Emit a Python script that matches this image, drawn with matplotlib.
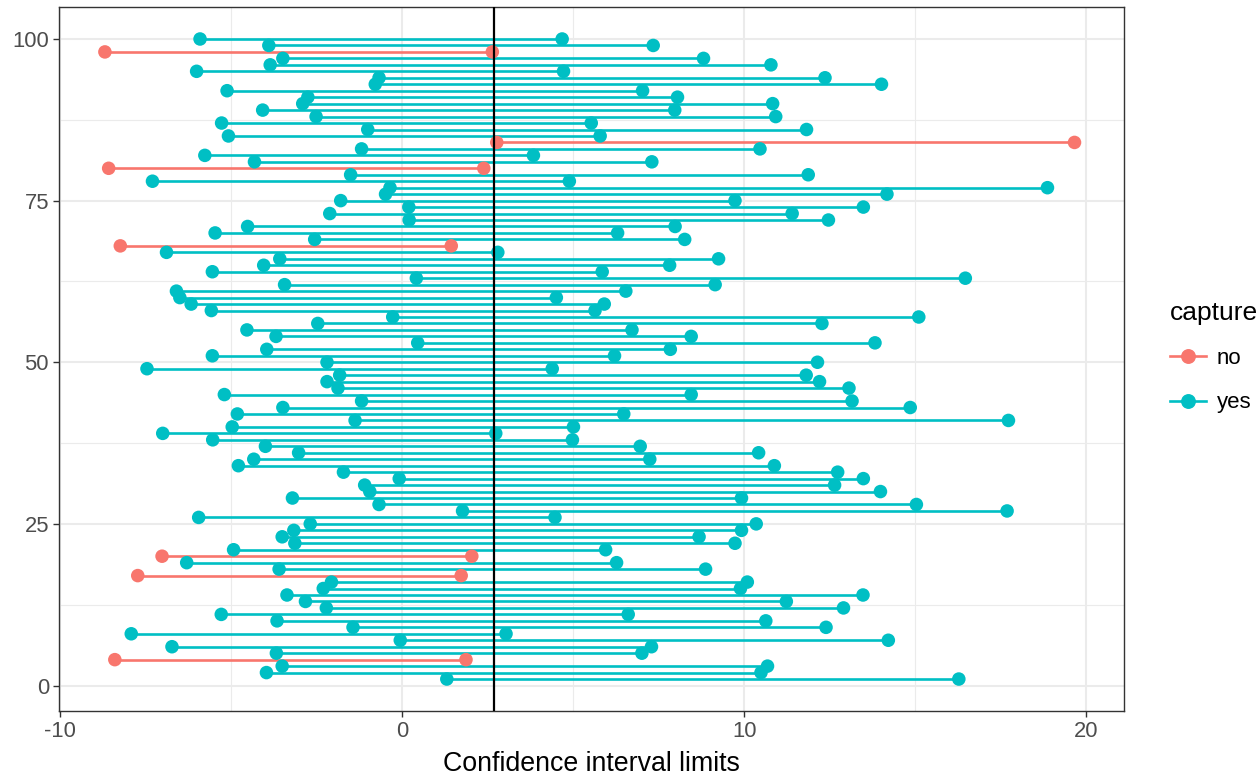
import numpy as np
import matplotlib
matplotlib.use("Agg")
import matplotlib.pyplot as plt
from matplotlib.lines import Line2D

# true mean (vertical reference line)
mu = 2.7

# sample index 1..100, lower and upper confidence limits
sample = list(range(1, 101))
lower = [1.31, -3.96, -3.50, -8.39, -3.67, -6.72, -0.05, -7.91, -1.43, -3.65,
         -5.28, -2.21, -2.82, -3.36, -2.30, -2.06, -7.72, -3.59, -6.29, -7.01,
         -4.92, -3.13, -3.50, -3.16, -2.68, -5.94, 1.77, -0.67, -3.20, -0.94,
         -1.09, -0.08, -1.71, -4.78, -4.33, -3.02, -3.99, -5.53, -6.99, -4.96,
         -1.37, -4.81, -3.48, -1.18, -5.19, -1.87, -2.19, -1.82, -7.45, -2.19,
         -5.54, -3.95, 0.46, -3.68, -4.53, -2.46, -0.27, -5.57, -6.16, -6.49,
         -6.59, -3.43, 0.42, -5.54, -4.04, -3.57, -6.88, -8.23, -2.55, -5.46,
         -4.51, 0.21, -2.11, 0.20, -1.79, -0.48, -0.35, -7.29, -1.50, -8.57,
         -4.31, -5.76, -1.18, 2.77, -5.07, -1.00, -5.27, -2.51, -4.07, -2.90,
         -2.75, -5.11, -0.78, -0.67, -6.00, -3.85, -3.48, -8.68, -3.89, -5.90]
upper = [16.27, 10.49, 10.68, 1.87, 7.01, 7.29, 14.21, 3.04, 12.39, 10.63,
         6.61, 12.90, 11.23, 13.47, 9.89, 10.09, 1.73, 8.87, 6.27, 2.04,
         5.95, 9.73, 8.68, 9.92, 10.35, 4.47, 17.68, 15.03, 9.92, 13.98,
         12.64, 13.48, 12.73, 10.88, 7.24, 10.42, 6.96, 4.98, 2.74, 5.01,
         17.72, 6.48, 14.85, 13.15, 8.45, 13.06, 12.20, 11.81, 4.39, 12.14,
         6.21, 7.84, 13.82, 8.45, 6.72, 12.27, 15.10, 5.64, 5.91, 4.51,
         6.54, 9.15, 16.46, 5.85, 7.82, 9.25, 2.80, 1.44, 8.26, 6.30,
         7.98, 12.46, 11.40, 13.48, 9.73, 14.17, 18.86, 4.89, 11.87, 2.39,
         7.30, 3.84, 10.46, 19.65, 5.79, 11.82, 5.53, 10.92, 7.97, 10.83,
         8.05, 7.03, 14.01, 12.36, 4.72, 10.78, 8.81, 2.64, 7.34, 4.68]

xTicks = [-10, 0, 10, 20]
yTicks = [0, 25, 50, 75, 100]

colNo = "#F8766D"
colYes = "#00BFC4"
textGrey = "#4D4D4D"

plt.rcParams['font.family'] = ['Liberation Sans', 'DejaVu Sans']

fig = plt.figure(figsize=(12.57, 7.76), dpi=100)
ax = fig.add_axes([0.0467, 0.0837, 0.8476, 0.9073])

lo = np.array(lower)
hi = np.array(upper)
y = np.array(sample)
captured = (lo <= mu) & (hi >= mu)
colors = np.where(captured, colYes, colNo)

ax.hlines(y, lo, hi, colors=colors, linewidth=1.9, zorder=3)
ax.scatter(lo, y, s=95, c=colors, zorder=4, linewidths=0)
ax.scatter(hi, y, s=95, c=colors, zorder=4, linewidths=0)
ax.axvline(mu, color="black", linewidth=1.6, zorder=5)

ax.set_xlim(-10.03, 21.1)
ax.set_ylim(-3.95, 104.95)
ax.set_xticks(xTicks)
ax.set_xticklabels([str(t) for t in xTicks])
ax.set_yticks(yTicks)
ax.set_xticks([-5, 5, 15], minor=True)
ax.set_yticks([12.5, 37.5, 62.5, 87.5], minor=True)

ax.set_facecolor("white")
ax.grid(which="major", color="#EBEBEB", linewidth=1.5, zorder=0)
ax.grid(which="minor", color="#EBEBEB", linewidth=0.8, zorder=0)
ax.set_axisbelow(True)
for s in ax.spines.values():
    s.set_color("#333333")
    s.set_linewidth(1.0)

ax.tick_params(which="major", length=4, width=1, color="#333333",
               labelsize=15.8, labelcolor=textGrey, pad=3)
ax.tick_params(which="minor", length=0)

ax.set_xlabel("Confidence interval limits", fontsize=19.3, color="black", labelpad=7)

handles = [Line2D([0], [0], color=colNo, lw=1.9, marker="o", markersize=9.7),
           Line2D([0], [0], color=colYes, lw=1.9, marker="o", markersize=9.7)]
leg = fig.legend(handles, ["no", "yes"], title="capture", loc="center left",
                 bbox_to_anchor=(0.922, 0.54), frameon=False, fontsize=16,
                 title_fontsize=19, handlelength=1.6, labelspacing=1.05,
                 handletextpad=0.5, borderpad=0)
leg._legend_box.align = "left"

fig.savefig("out.png", dpi=100)
